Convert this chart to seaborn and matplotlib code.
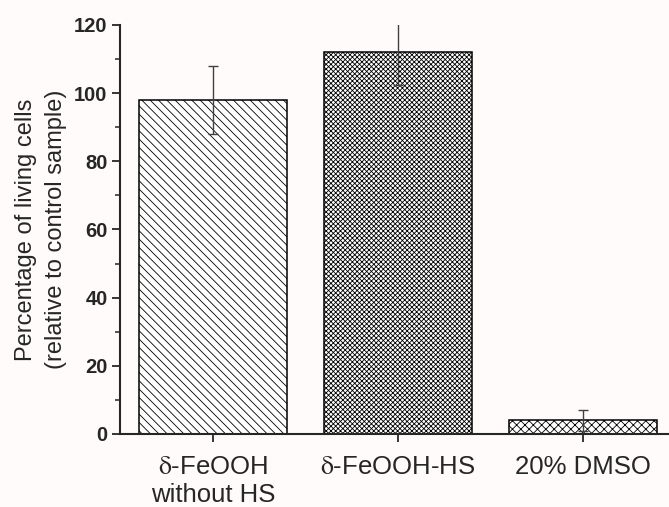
import numpy as np
import pandas as pd
import seaborn as sns
import matplotlib.pyplot as plt
from matplotlib.ticker import MultipleLocator

# data
samples = ['$\\mathrm{\\delta}$-FeOOH\nwithout HS', '$\\mathrm{\\delta}$-FeOOH-HS', '20% DMSO']
living = [98, 112, 4]
living_err = [10, 9.5, 3]
hatches = ['\\' * 4, 'x' * 7, 'x' * 4]

sns.set_style('ticks')
plt.rcParams['font.family'] = ['Liberation Sans', 'DejaVu Sans']
plt.rcParams['mathtext.fontset'] = 'stix'
plt.rcParams['hatch.linewidth'] = 0.6

df = pd.DataFrame({'sample': samples, 'living': living})

bg = '#fffbfa'
fig = plt.figure(figsize=(6.69, 5.07), dpi=100, facecolor=bg)
ax = fig.add_axes([0.1794, 0.144, 0.8206, 0.8067])
ax.set_facecolor(bg)

sns.barplot(data=df, x='sample', y='living', color='white', saturation=1,
            edgecolor='black', linewidth=1.1, width=0.8, ax=ax)
for p, h in zip(ax.patches, hatches):
    p.set_hatch(h)

ax.errorbar(np.arange(len(living)), living, yerr=living_err, fmt='none',
            ecolor='#404040', elinewidth=1, capsize=3.5, capthick=1, zorder=5)

ax.set_xlim(-0.503, 2.465)
ax.set_ylim(0, 120)
ax.yaxis.set_major_locator(MultipleLocator(20))
ax.yaxis.set_minor_locator(MultipleLocator(10))

sns.despine(ax=ax)
for s in ['left', 'bottom']:
    ax.spines[s].set_linewidth(1.5)

ax.tick_params(axis='y', which='major', length=6, width=1.3, labelsize=14.5, pad=3)
ax.tick_params(axis='y', which='minor', length=3.5, width=1.1)
ax.tick_params(axis='x', which='major', length=6, width=1.3, labelsize=18.5, pad=9)
for t in ax.get_yticklabels():
    t.set_fontweight('bold')
for t in ax.get_xticklabels():
    t.set_linespacing(1.2)

ax.set_xlabel('')
ax.set_ylabel('Percentage of living cells\n(relative to control sample)', fontsize=17,
              labelpad=5, linespacing=1.45)

fig.savefig('out.png', dpi=100, facecolor=bg)
